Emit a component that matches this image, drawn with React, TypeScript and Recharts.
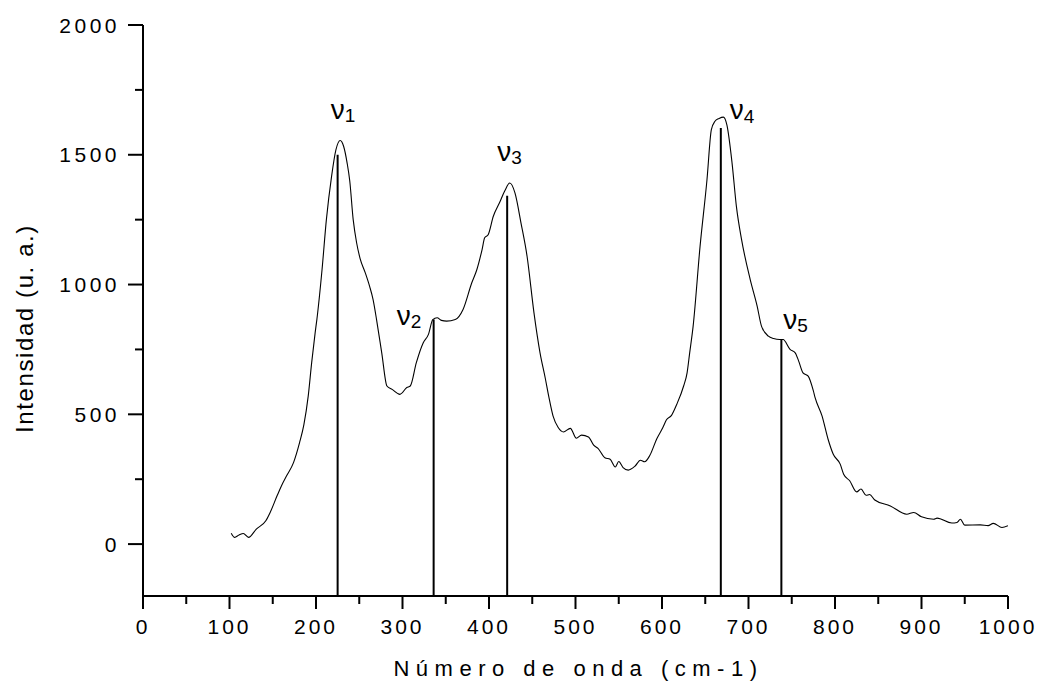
import React from 'react';
import { ComposedChart, Line, XAxis, YAxis, ReferenceLine, Label } from 'recharts';

// Raman spectrum: wavenumber (cm-1) and intensity (a.u.)
const wavenumbers = [
  102, 106, 111, 116, 122, 131, 142, 147, 155, 160, 166, 174, 181, 186, 191, 195, 199, 201, 207, 212,
  218, 223, 228, 232, 236, 239, 243, 247, 251, 257, 262, 266, 270, 276, 282, 288, 297, 305, 309, 316,
  324, 330, 335, 340, 345, 351, 361, 370, 380, 386, 392, 395, 399, 405, 412, 418, 424, 430, 437, 444,
  452, 459, 465, 469, 474, 480, 486, 494, 501, 507, 515, 521, 526, 534, 540, 546, 550, 555, 561, 569,
  575, 580, 586, 594, 601, 605, 611, 617, 625, 629, 632, 636, 644, 652, 657, 661, 666, 671, 675, 681,
  686, 692, 702, 710, 715, 723, 729, 736, 740, 748, 754, 758, 763, 769, 775, 777, 785, 792, 798, 806,
  810, 817, 825, 830, 836, 840, 846, 864, 883, 891, 900, 914, 918, 935, 941, 945, 950, 968, 977, 983,
  993, 1000,
];
const intensities = [
  42, 26, 35, 41, 26, 58, 90, 122, 186, 224, 263, 314, 391, 460, 570, 699, 814, 865, 1058, 1250,
  1417, 1519, 1555, 1532, 1468, 1400, 1250, 1160, 1100, 1045, 993, 942, 865, 737, 609, 596, 577, 603, 609, 699,
  776, 808, 865, 872, 862, 859, 865, 904, 1006, 1058, 1135, 1180, 1192, 1263, 1314, 1359, 1391, 1353, 1237, 1109,
  891, 737, 640, 570, 494, 449, 432, 446, 408, 420, 413, 381, 369, 333, 327, 297, 318, 295, 285, 301,
  323, 317, 342, 406, 449, 478, 496, 538, 609, 660, 737, 840, 1147, 1404, 1596, 1628, 1640, 1645, 1615, 1468,
  1301, 1173, 1019, 917, 840, 801, 792, 788, 788, 750, 737, 705, 660, 647, 590, 564, 494, 404, 346, 308,
  269, 244, 201, 212, 188, 191, 170, 147, 115, 122, 105, 96, 100, 81, 83, 96, 73, 74, 71, 80,
  64, 71,
];

// Assigned bands: subscript, position and marker height
const peakNames = ['1', '2', '3', '4', '5'];
const peakPositions = [225, 336, 421, 668, 738];
const peakHeights = [1500, 865, 1342, 1603, 788];

const xTicks = [0, 50, 100, 150, 200, 250, 300, 350, 400, 450, 500, 550, 600, 650, 700, 750, 800, 850, 900, 950, 1000];
const yTicks = [0, 250, 500, 750, 1000, 1250, 1500, 1750, 2000];

const data = wavenumbers.map((wn, i) => ({ wn, int: intensities[i] }));

const FONT = 'Arial, "Liberation Sans", sans-serif';

// pixel offsets of each label relative to the top of its marker line
const labelOffsets: Record<string, [number, number]> = {
  '1': [-7, -36],
  '2': [-37, 5],
  '3': [-10, -35],
  '4': [9, -9],
  '5': [2, -11],
};

const XTick = (props: any) => {
  const { x, y, payload } = props;
  const major = payload.value % 100 === 0;
  return (
    <g>
      <line x1={x} x2={x} y1={y} y2={y + (major ? 13 : 8)} stroke="#000" strokeWidth={2} />
      {major && (
        <text x={x} y={y + 38} textAnchor="middle" fontFamily={FONT} fontSize={21} letterSpacing={3} fill="#000">
          {payload.value}
        </text>
      )}
    </g>
  );
};

const YTick = (props: any) => {
  const { x, y, payload } = props;
  const major = payload.value % 500 === 0;
  return (
    <g>
      <line x1={x} x2={x - (major ? 15 : 8)} y1={y} y2={y} stroke="#000" strokeWidth={2} />
      {major && (
        <text x={x - 23} y={y + 7.5} textAnchor="end" fontFamily={FONT} fontSize={21} letterSpacing={3.5} fill="#000">
          {payload.value}
        </text>
      )}
    </g>
  );
};

const PeakLabel = (props: any) => {
  const { viewBox, sub } = props;
  if (!viewBox) return null;
  const [dx, dy] = labelOffsets[sub];
  const x = viewBox.x + dx;
  const y = viewBox.y + dy;
  return (
    <text x={x} y={y} fontFamily={FONT} fontSize={28} fill="#000">
      ν
      <tspan fontSize={19} dy={3.5}>{sub}</tspan>
    </text>
  );
};

const XTitle = (props: any) => {
  const { viewBox } = props;
  const cx = viewBox.x + viewBox.width / 2 + 3;
  return (
    <text x={cx} y={viewBox.y + 80} textAnchor="middle" fontFamily={FONT} fontSize={22} letterSpacing={6.5} fill="#000">
      Número de onda (cm-1)
    </text>
  );
};

const YTitle = (props: any) => {
  const { viewBox } = props;
  const cx = 33;
  const cy = viewBox.y + viewBox.height / 2 + 18;
  return (
    <text
      x={cx}
      y={cy}
      transform={`rotate(-90, ${cx}, ${cy})`}
      textAnchor="middle"
      fontFamily={FONT}
      fontSize={24}
      letterSpacing={1.6}
      fill="#000"
    >
      Intensidad (u. a.)
    </text>
  );
};

export default function App() {
  return (
    <div style={{ position: 'absolute', left: 0, top: 0, width: 1040, height: 684, background: '#fff' }}>
      <ComposedChart width={1040} height={684} data={data} margin={{ top: 25, right: 32, bottom: 0, left: 0 }}>
        <XAxis
          dataKey="wn"
          type="number"
          domain={[0, 1000]}
          ticks={xTicks}
          interval={0}
          height={88}
          tickSize={0}
          tickMargin={0}
          tickLine={false}
          axisLine={{ stroke: '#000', strokeWidth: 2 }}
          tick={<XTick />}
          allowDataOverflow
        >
          <Label content={<XTitle />} />
        </XAxis>
        <YAxis
          type="number"
          domain={[-200, 2000]}
          ticks={yTicks}
          interval={0}
          width={143}
          tickSize={0}
          tickMargin={0}
          tickLine={false}
          axisLine={{ stroke: '#000', strokeWidth: 2 }}
          tick={<YTick />}
          allowDataOverflow
        >
          <Label content={<YTitle />} />
        </YAxis>
        {peakPositions.map((px, i) => (
          <ReferenceLine
            key={peakNames[i]}
            segment={[
              { x: px, y: -200 },
              { x: px, y: peakHeights[i] },
            ]}
            stroke="#000"
            strokeWidth={2}
            label={<PeakLabel sub={peakNames[i]} />}
          />
        ))}
        <Line
          dataKey="int"
          type="monotone"
          stroke="#000"
          strokeWidth={1.1}
          dot={false}
          activeDot={false}
          isAnimationActive={false}
        />
      </ComposedChart>
    </div>
  );
}
